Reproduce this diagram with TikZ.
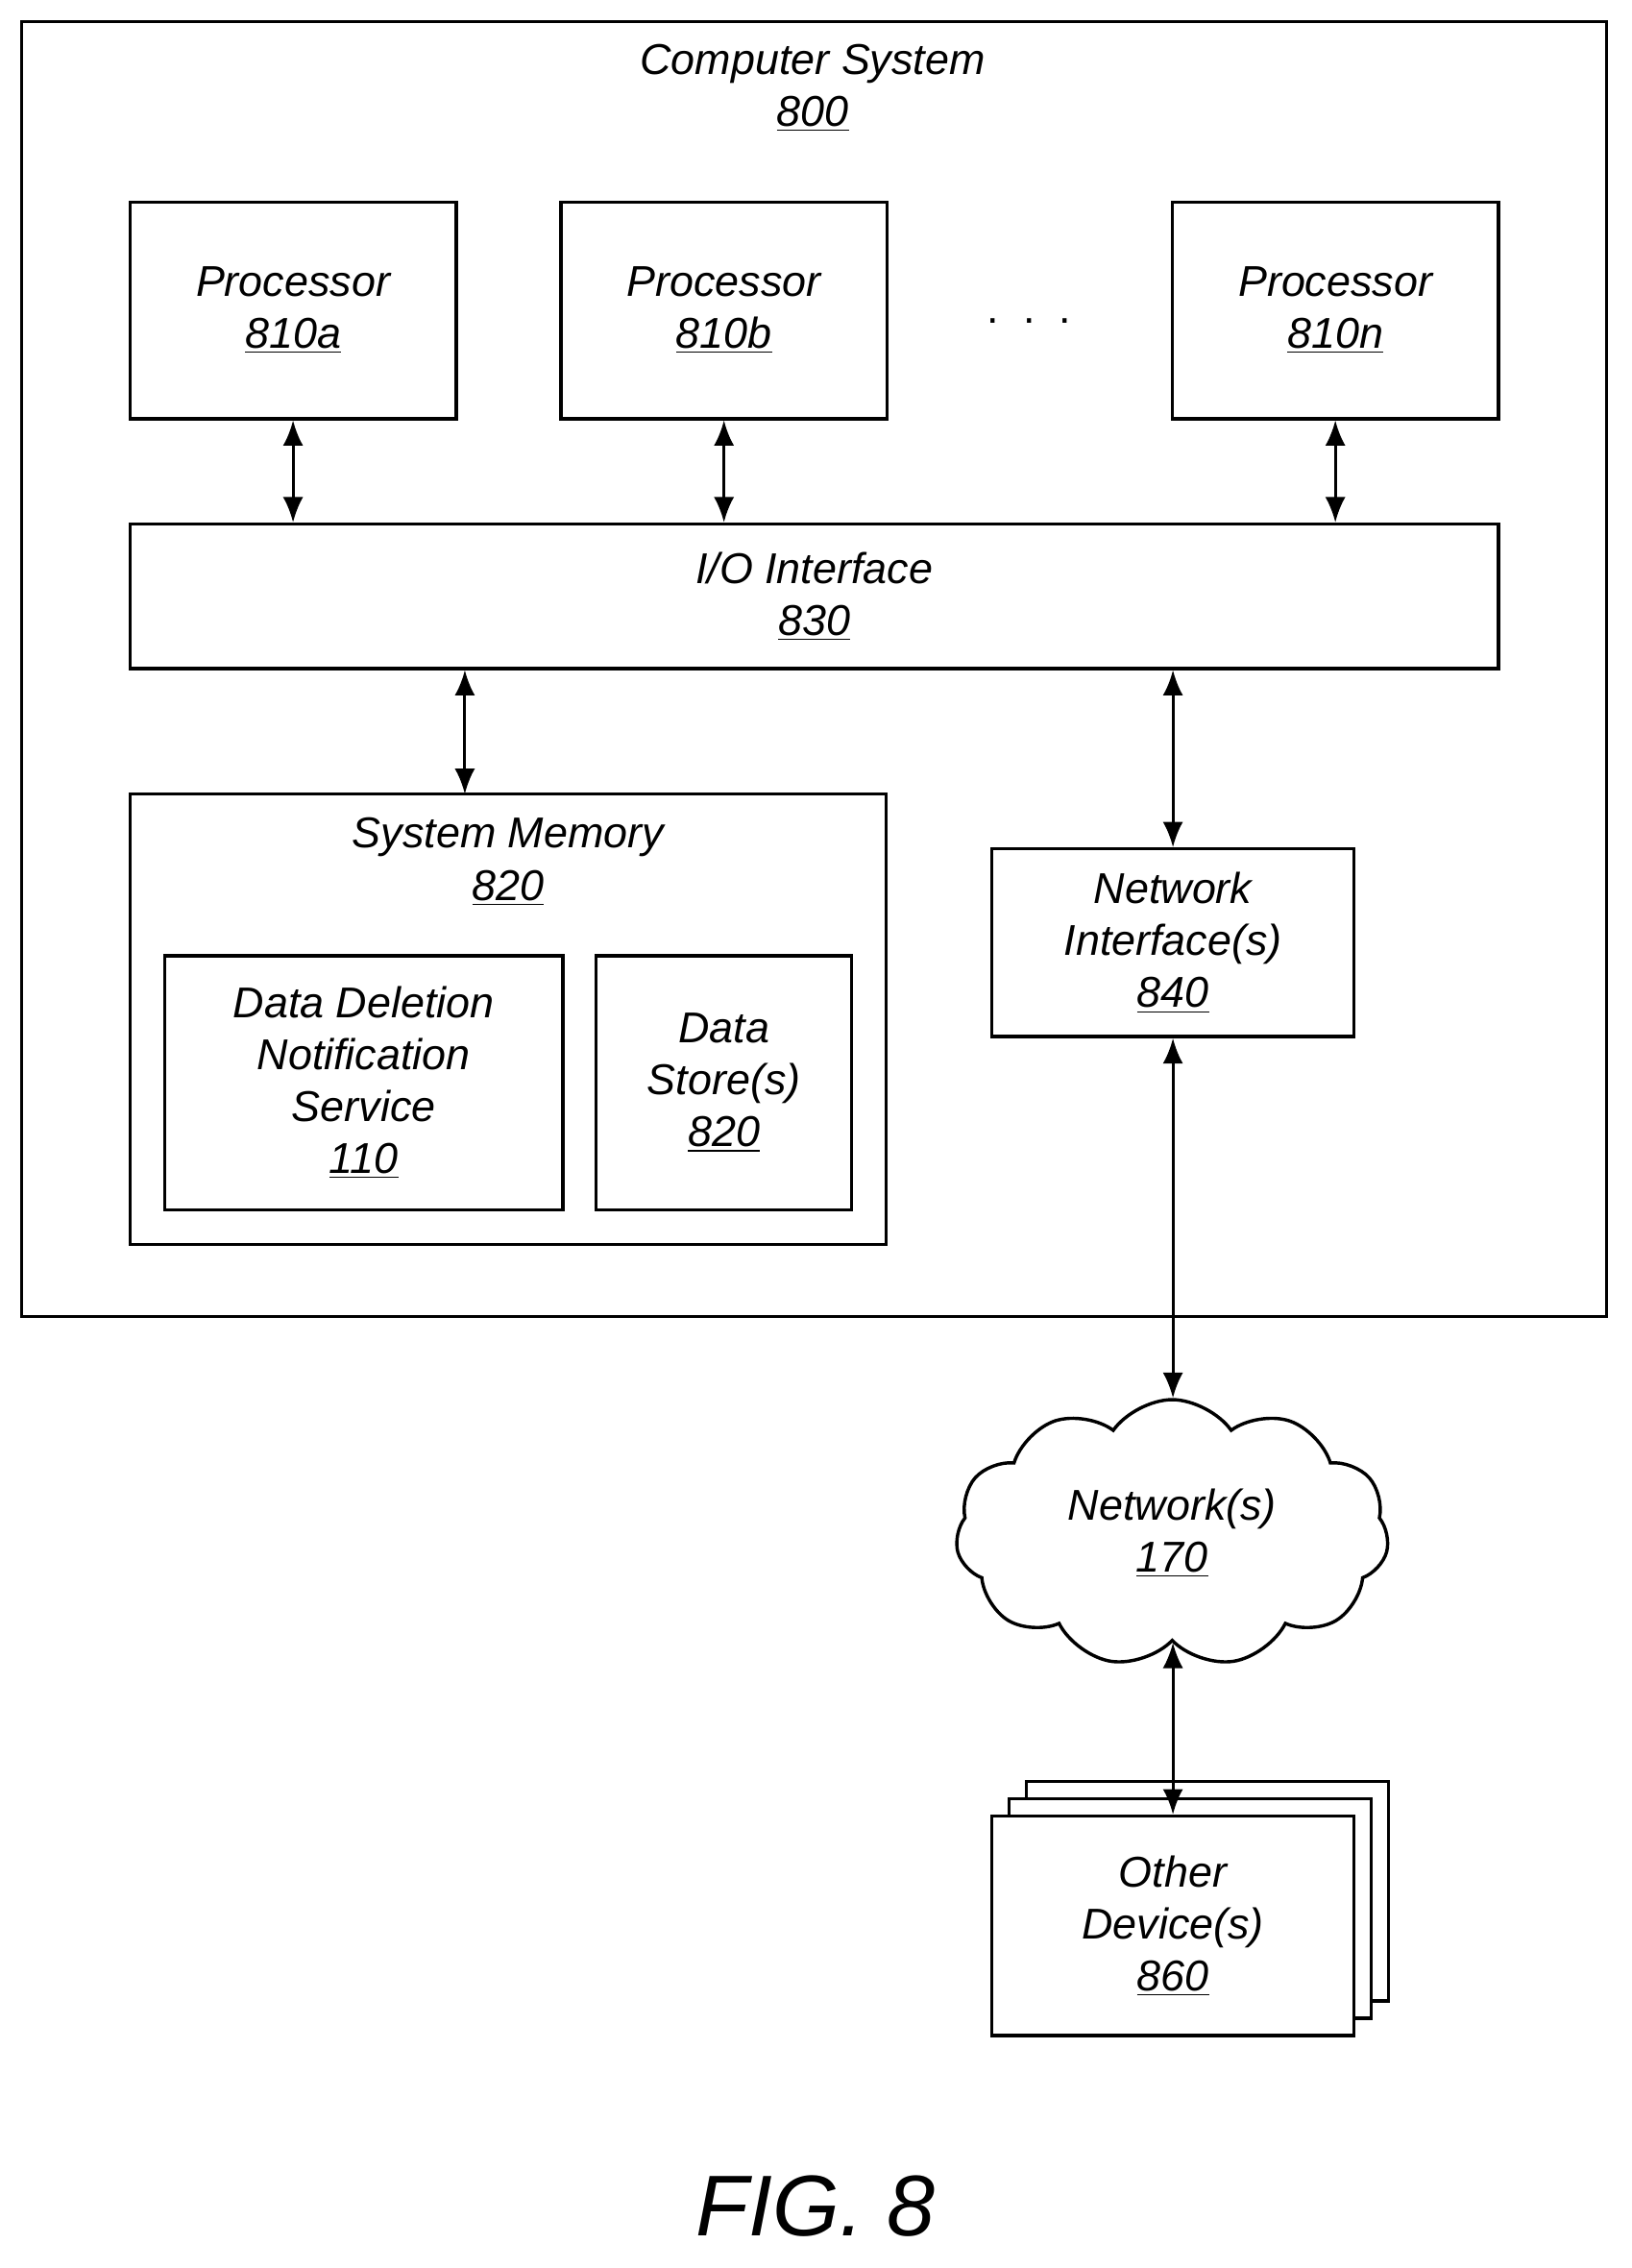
\documentclass[tikz,border=0pt]{standalone}
\usepackage{fontspec}
\setmainfont{Liberation Sans}
\usetikzlibrary{arrows.meta,shapes.symbols}
\tikzset{
  box/.style={draw, line width=1.3pt, align=center, font=\itshape},
  link/.style={{Latex[length=10pt,width=8pt]}-{Latex[length=10pt,width=8pt]}, line width=1.1pt}
}
\begin{document}
\fontsize{17}{20.5}\selectfont
\begin{tikzpicture}[x=0.02cm,y=-0.02cm]
  \useasboundingbox (0,0) rectangle (1130,1571);
  % computer system
  \node (sys) [draw, line width=1.3pt, minimum width=1098*0.02cm, minimum height=897*0.02cm] at (564,463.5) {};
  \node (syslbl) [align=center, font=\itshape] at (563,61) {Computer System\\\underline{800}};
  % processors
  \node (pa) [box, minimum width=226*0.02cm, minimum height=150*0.02cm] at (203,215) {Processor\\\underline{810a}};
  \node (pb) [box, minimum width=226*0.02cm, minimum height=150*0.02cm] at (501.5,215) {Processor\\\underline{810b}};
  \node (pn) [box, minimum width=226*0.02cm, minimum height=150*0.02cm] at (925,215) {Processor\\\underline{810n}};
  \node (dots) at (713,222) {.\ \ .\ \ .};
  \node (io) [box, minimum width=948*0.02cm, minimum height=100*0.02cm] at (564,413) {I/O Interface\\\underline{830}};
  % memory
  \node (mem) [box, minimum width=524*0.02cm, minimum height=312*0.02cm] at (352,706) {};
  \node (memlbl) [align=center, font=\itshape] at (352,597) {System Memory\\\underline{820}};
  \node (ddns) [box, minimum width=276*0.02cm, minimum height=176*0.02cm] at (252,750) {Data Deletion\\Notification\\Service\\\underline{110}};
  \node (ds) [box, minimum width=177*0.02cm, minimum height=176*0.02cm] at (501.5,750) {Data\\Store(s)\\\underline{820}};
  \node (ni) [box, minimum width=251*0.02cm, minimum height=130*0.02cm] at (812.5,653) {Network\\Interface(s)\\\underline{840}};
  % network and devices
  \node (net) [cloud, cloud puffs=11, cloud puff arc=110, aspect=1.6, draw, line width=1.3pt, align=center, font=\itshape, minimum width=300*0.02cm, minimum height=185*0.02cm] at (812,1062) {Network(s)\\\underline{170}};
  \node (od3) [box, fill=white, minimum width=251*0.02cm, minimum height=152*0.02cm] at (836.5,1310) {};
  \node (od2) [box, fill=white, minimum width=251*0.02cm, minimum height=152*0.02cm] at (824.5,1322) {};
  \node (od) [box, fill=white, minimum width=251*0.02cm, minimum height=152*0.02cm] at (812.5,1334) {Other\\Device(s)\\\underline{860}};
  \node (fig) [font=\fontsize{34}{40}\selectfont\itshape] at (565,1528) {FIG. 8};
  % connectors
  \draw [link] (pa.south) -- (pa.south |- io.north);
  \draw [link] (pb.south) -- (pb.south |- io.north);
  \draw [link] (pn.south) -- (pn.south |- io.north);
  \coordinate (mtop) at (322,550);
  \draw [link] (mtop |- io.south) -- (mtop);
  \draw [link] (ni.north |- io.south) -- (ni.north);
  \draw [link] (ni.south) -- (ni.south |- net.north);
  \draw [link] (net.south -| od.north) -- (od.north);
\end{tikzpicture}
\end{document}
